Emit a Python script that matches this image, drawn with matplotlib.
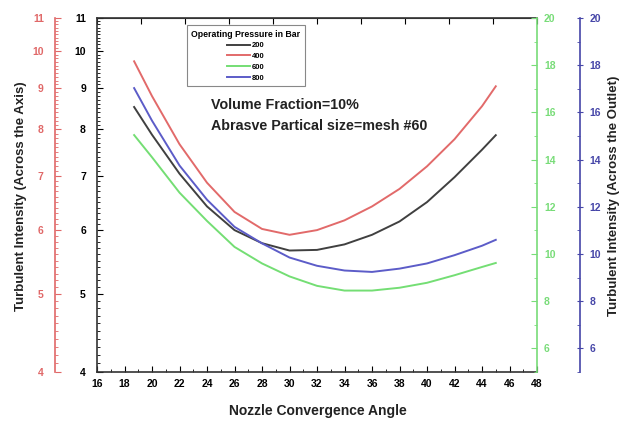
import numpy as np
import matplotlib
matplotlib.use("Agg")
import matplotlib.pyplot as plt
from matplotlib.ticker import FixedLocator, MultipleLocator, NullFormatter, FixedFormatter

plt.rcParams['font.family'] = ['Liberation Sans', 'DejaVu Sans']
plt.rcParams['font.weight'] = 'bold'

# nozzle convergence angle (deg)
angle = [18.7, 20, 22, 24, 26, 28, 30, 32, 34, 36, 38, 40, 42, 44, 45]

# turbulent intensity across the axis (left, log scale)
ti_200 = [8.53, 7.88, 7.05, 6.42, 6.00, 5.78, 5.66, 5.67, 5.76, 5.92, 6.15, 6.50, 6.98, 7.55, 7.87]
ti_400 = [9.72, 8.80, 7.67, 6.87, 6.32, 6.02, 5.92, 6.00, 6.17, 6.42, 6.75, 7.20, 7.78, 8.55, 9.05]
# turbulent intensity across the outlet (right, linear)
ti_600 = [15.04, 14.10, 12.60, 11.40, 10.30, 9.60, 9.05, 8.65, 8.45, 8.45, 8.57, 8.78, 9.10, 9.45, 9.62]
ti_800 = [17.03, 15.65, 13.75, 12.30, 11.15, 10.45, 9.85, 9.50, 9.30, 9.24, 9.38, 9.60, 9.95, 10.35, 10.60]

pressures = ['200', '400', '600', '800']
colors = ['#404040', '#e26a6a', '#74de74', '#5c5cc8']
red_axis = '#e06868'
green_axis = '#78dc78'
blue_axis = '#4646a8'

fig = plt.figure(figsize=(6.23, 4.26), dpi=100)
ax = fig.add_axes([0.1557, 0.1268, 0.7063, 0.8309])

l1, = ax.plot(angle, ti_200, color=colors[0], lw=1.4)
l2, = ax.plot(angle, ti_400, color=colors[1], lw=1.4)
ax.set_yscale('log')
ax.set_ylim(4, 11)
ax.set_xlim(16, 48)

left_major = [4, 5, 6, 7, 8, 9, 10, 11]
left_minor = np.arange(4.1, 11.0, 0.1)
ax.yaxis.set_major_locator(FixedLocator(left_major))
ax.yaxis.set_major_formatter(FixedFormatter([str(v) for v in left_major]))
ax.yaxis.set_minor_locator(FixedLocator(left_minor))
ax.yaxis.set_minor_formatter(NullFormatter())
ax.xaxis.set_major_locator(MultipleLocator(2))
ax.xaxis.set_minor_locator(MultipleLocator(1))
ax.tick_params(axis='both', which='major', direction='in', length=4, labelsize=7.5, width=0.8)
ax.tick_params(axis='both', which='minor', direction='in', length=2, width=0.6)
ax.tick_params(axis='x', pad=5)
ax.tick_params(axis='y', which='both', pad=8)
for s in ['left', 'bottom', 'top']:
    ax.spines[s].set_color('#333333')
    ax.spines[s].set_linewidth(1.2)
ax.spines['right'].set_visible(False)

top = ax.secondary_xaxis('top')
top.set_xticks(np.linspace(16, 48, 11))
top.tick_params(direction='in', length=4, labeltop=False)
top.spines['top'].set_color('#333333')

# red copy of the left scale
ax_red = ax.twinx()
ax_red.set_yscale('log')
ax_red.set_ylim(4, 11)
ax_red.spines['left'].set_position(('axes', -0.0955))
ax_red.spines['left'].set_visible(True)
ax_red.spines['left'].set_color(red_axis)
ax_red.spines['left'].set_linewidth(1.2)
for s in ['right', 'top', 'bottom']:
    ax_red.spines[s].set_visible(False)
ax_red.yaxis.set_ticks_position('left')
ax_red.yaxis.set_label_position('left')
ax_red.yaxis.set_major_locator(FixedLocator(left_major))
ax_red.yaxis.set_major_formatter(FixedFormatter([str(v) for v in left_major]))
ax_red.yaxis.set_minor_locator(FixedLocator(left_minor))
ax_red.yaxis.set_minor_formatter(NullFormatter())
ax_red.tick_params(axis='y', which='major', direction='in', length=4, labelsize=7.5,
                   colors=red_axis, pad=8)
ax_red.tick_params(axis='y', which='minor', direction='in', length=2, colors=red_axis)

# green outlet scale
ax_g = ax.twinx()
l3, = ax_g.plot(angle, ti_600, color=colors[2], lw=1.4)
ax_g.set_ylim(5, 20)
ax_g.yaxis.set_major_locator(FixedLocator([6, 8, 10, 12, 14, 16, 18, 20]))
ax_g.yaxis.set_minor_locator(MultipleLocator(1))
for s in ['left', 'top', 'bottom']:
    ax_g.spines[s].set_visible(False)
ax_g.spines['right'].set_color(green_axis)
ax_g.spines['right'].set_linewidth(1.2)
ax_g.tick_params(axis='y', which='major', direction='in', length=4, labelsize=7.5,
                 colors=green_axis, pad=5)
ax_g.tick_params(axis='y', which='minor', direction='in', length=2, colors=green_axis)

# blue outlet scale
ax_b = ax.twinx()
l4, = ax_b.plot(angle, ti_800, color=colors[3], lw=1.4)
ax_b.set_ylim(5, 20)
ax_b.spines['right'].set_position(('axes', 1.098))
for s in ['left', 'top', 'bottom']:
    ax_b.spines[s].set_visible(False)
ax_b.spines['right'].set_color(blue_axis)
ax_b.spines['right'].set_linewidth(1.2)
ax_b.yaxis.set_major_locator(FixedLocator([6, 8, 10, 12, 14, 16, 18, 20]))
ax_b.yaxis.set_minor_locator(MultipleLocator(1))
ax_b.tick_params(axis='y', which='major', direction='inout', length=5, labelsize=7.5,
                 colors=blue_axis, pad=4)
ax_b.tick_params(axis='y', which='minor', direction='in', length=2, colors=blue_axis)

leg = ax_b.legend([l1, l2, l3, l4], pressures, title='Operating Pressure in Bar',
                  loc='upper left', bbox_to_anchor=(0.196, 0.99), fontsize=5.5,
                  title_fontproperties={'size': 6.3, 'weight': 'bold'},
                  handlelength=3.0, handletextpad=0.15, labelspacing=0.45,
                  alignment='center', fancybox=False, edgecolor='#888888',
                  borderpad=0.55, framealpha=1)
leg.get_frame().set_linewidth(0.8)

ax.text(0.26, 0.754, 'Volume Fraction=10%', transform=ax.transAxes,
        fontsize=10.3, fontweight='bold', color='#222222', va='center')
ax.text(0.26, 0.695, 'Abrasve Partical size=mesh #60', transform=ax.transAxes,
        fontsize=10.3, fontweight='bold', color='#222222', va='center')

fig.text(0.51, 0.035, 'Nozzle Convergence Angle', ha='center', va='center',
         fontsize=10, fontweight='bold', color='#222222')
fig.text(0.033, 0.54, 'Turbulent Intensity (Across the Axis)', rotation=90,
         ha='center', va='center', fontsize=9.5, fontweight='bold', color='#222222')
fig.text(0.985, 0.54, 'Turbulent Intensity (Across the Outlet)', rotation=90,
         ha='center', va='center', fontsize=9.5, fontweight='bold', color='#222222')

fig.savefig('out.png', dpi=100)
